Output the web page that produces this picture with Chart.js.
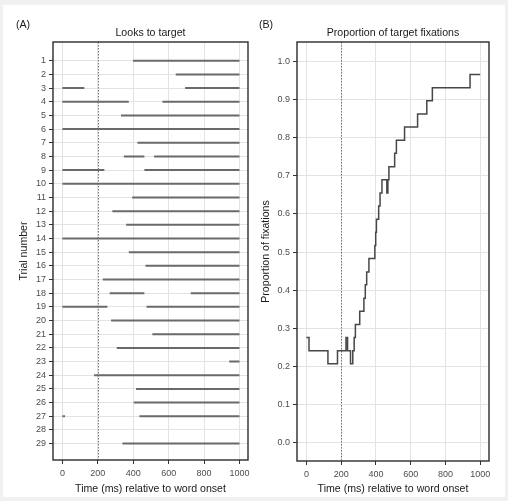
<!DOCTYPE html>
<html>
<head>
<meta charset="utf-8">
<script src="https://cdn.jsdelivr.net/npm/chart.js@4.4.1/dist/chart.umd.min.js"></script>
<style>
  html, body { margin: 0; padding: 0; background: #f1f1f1; width: 508px; height: 501px; overflow: hidden; }
  #sheet { position: absolute; left: 3px; top: 5px; width: 502px; height: 492px; background: #ffffff; }
  .panel { position: absolute; top: 0; width: 254px; height: 501px; }
  #panelA { left: 0; }
  #panelB { left: 254px; }
</style>
</head>
<body>
<div id="sheet"></div>
<div class="panel" id="panelA"><canvas id="looks" width="254" height="501"></canvas></div>
<div class="panel" id="panelB"><canvas id="prop" width="254" height="501"></canvas></div>
<script>
// Trial numbers shown on the y axis of panel A
const trialLabels = [1, 2, 3, 4, 5, 6, 7, 8, 9, 10, 11, 12, 13, 14, 15,
  16, 17, 18, 19, 20, 21, 22, 23, 24, 25, 26, 27, 28, 29];

// Each look to the target: trial, start (ms) and end (ms)
const lookTrial = [1, 2, 3, 3, 4, 4, 5, 6, 7, 8, 8, 9, 9, 10, 11, 12, 13, 14, 15,
  16, 17, 18, 18, 19, 19, 20, 21, 22, 23, 24, 25, 26, 27, 27, 29];
const lookStart = [399, 640, 0, 693, 0, 565, 331, 0, 424, 347, 518, 0, 463, 0, 394, 282, 360, 0, 375,
  469, 228, 267, 725, 0, 475, 275, 508, 307, 942, 179, 416, 403, 0, 435, 339];
const lookEnd = [1000, 1000, 124, 1000, 375, 1000, 1000, 1000, 1000, 463, 1000, 237, 1000, 1000, 1000, 1000, 1000, 1000, 1000,
  1000, 1000, 463, 1000, 254, 1000, 1000, 1000, 1000, 1000, 1000, 1000, 1000, 15, 1000, 1000];

// Proportion of trials fixating the target; each value holds from its time until the next
const fixTimes = [0, 15, 124, 179, 228, 237, 254, 267, 275, 282, 307, 331, 339, 347, 360,
  394, 399, 403, 416, 424, 435, 463, 469, 475, 508, 518, 565, 640, 693, 725, 942, 1000];
const fixProportions = [0.276, 0.241, 0.207, 0.241, 0.276, 0.241, 0.207, 0.241, 0.276, 0.310, 0.345, 0.379, 0.414, 0.448, 0.483,
  0.517, 0.552, 0.586, 0.621, 0.655, 0.690, 0.655, 0.690, 0.724, 0.759, 0.793, 0.828, 0.862, 0.897, 0.931, 0.966, 0.966];

// Axis ticks
const timeTicks = [0, 200, 400, 600, 800, 1000];
const propTicks = [0.0, 0.1, 0.2, 0.3, 0.4, 0.5, 0.6, 0.7, 0.8, 0.9, 1.0];

// Word onset reference line (ms)
const onsetMs = 200;

const FONT = '"Liberation Sans", Arial, Helvetica, sans-serif';
Chart.defaults.font.family = FONT;
Chart.defaults.devicePixelRatio = 1;

// Dotted vertical line at word onset, drawn under the data
const onsetLine = {
  id: 'onsetLine',
  beforeDatasetsDraw(chart) {
    const { ctx, chartArea, scales } = chart;
    const x = Math.round(scales.x.getPixelForValue(onsetMs)) + 0.5;
    ctx.save();
    ctx.strokeStyle = '#777777';
    ctx.lineWidth = 1;
    ctx.setLineDash([1.5, 1.5]);
    ctx.beginPath();
    ctx.moveTo(x, chartArea.top);
    ctx.lineTo(x, chartArea.bottom);
    ctx.stroke();
    ctx.restore();
  }
};

// Box around the plotting area
const panelFrame = {
  id: 'panelFrame',
  afterDraw(chart) {
    const { ctx, chartArea } = chart;
    ctx.save();
    ctx.strokeStyle = '#2b2b2b';
    ctx.lineWidth = 1.4;
    ctx.strokeRect(chartArea.left, chartArea.top, chartArea.right - chartArea.left, chartArea.bottom - chartArea.top);
    ctx.restore();
  }
};

// Panel letter and panel heading
const panelHeading = {
  id: 'panelHeading',
  afterDraw(chart, args, opts) {
    const { ctx, chartArea } = chart;
    ctx.save();
    ctx.fillStyle = '#1a1a1a';
    ctx.font = '10.6px ' + FONT;
    ctx.textBaseline = 'middle';
    ctx.textAlign = 'left';
    ctx.fillText(opts.letter, opts.letterX, 25);
    ctx.textAlign = 'center';
    ctx.fillText(opts.title, (chartArea.left + chartArea.right) / 2, 33);
    ctx.restore();
  }
};

function timeAxis(min, max, height) {
  return {
    type: 'linear',
    min: min,
    max: max,
    afterBuildTicks: s => { s.ticks = timeTicks.map(v => ({ value: v })); },
    afterFit: s => { s.height = height; },
    grid: { color: '#e3e3e3', lineWidth: 1, tickColor: '#333333', tickLength: 4, drawTicks: true },
    border: { display: false },
    ticks: { color: '#4d4d4d', font: { size: 9 }, padding: 4, autoSkip: false, maxRotation: 0,
             callback: v => String(v) },
    title: { display: true, text: 'Time (ms) relative to word onset', color: '#1a1a1a',
             font: { size: 10.6 }, padding: { top: 0, bottom: 6 } }
  };
}

// Panel A: one line segment per look, separated by gaps
const lookPoints = [];
for (let i = 0; i < lookTrial.length; i++) {
  lookPoints.push({ x: lookStart[i], y: lookTrial[i] });
  lookPoints.push({ x: lookEnd[i], y: lookTrial[i] });
  lookPoints.push({ x: lookEnd[i], y: null });
}

new Chart(document.getElementById('looks'), {
  type: 'line',
  data: {
    datasets: [{
      data: lookPoints,
      borderColor: '#6a6a6a',
      borderWidth: 2,
      pointRadius: 0,
      spanGaps: false,
      tension: 0
    }]
  },
  options: {
    responsive: false,
    animation: false,
    layout: { padding: { top: 42, right: 6, bottom: 0, left: 0 } },
    plugins: {
      legend: { display: false },
      tooltip: { enabled: false },
      panelHeading: { letter: '(A)', letterX: 16, title: 'Looks to target' }
    },
    scales: {
      x: timeAxis(-53, 1048, 41),
      y: {
        type: 'linear',
        reverse: true,
        min: -0.37,
        max: 30.2,
        afterBuildTicks: s => { s.ticks = trialLabels.map(v => ({ value: v })); },
        afterFit: s => { s.width = 53; },
        grid: { color: '#e3e3e3', lineWidth: 1, tickColor: '#333333', tickLength: 4, drawTicks: true },
        border: { display: false },
        ticks: { color: '#4d4d4d', font: { size: 9 }, padding: 3, autoSkip: false,
                 callback: v => String(v) },
        title: { display: true, text: 'Trial number', color: '#1a1a1a',
                 font: { size: 10.6 }, padding: { top: 18, bottom: 0 } }
      }
    }
  },
  plugins: [onsetLine, panelFrame, panelHeading]
});

// Panel B: stepped proportion curve
new Chart(document.getElementById('prop'), {
  type: 'line',
  data: {
    datasets: [{
      data: fixTimes.map((t, i) => ({ x: t, y: fixProportions[i] })),
      borderColor: '#474747',
      borderWidth: 1.5,
      pointRadius: 0,
      stepped: true,
      tension: 0
    }]
  },
  options: {
    responsive: false,
    animation: false,
    layout: { padding: { top: 42, right: 19, bottom: 0, left: 0 } },
    plugins: {
      legend: { display: false },
      tooltip: { enabled: false },
      panelHeading: { letter: '(B)', letterX: 5, title: 'Proportion of target fixations' }
    },
    scales: {
      x: timeAxis(-54, 1051, 40),
      y: {
        type: 'linear',
        min: -0.048,
        max: 1.051,
        afterBuildTicks: s => { s.ticks = propTicks.map(v => ({ value: v })); },
        afterFit: s => { s.width = 43; },
        grid: { color: '#e3e3e3', lineWidth: 1, tickColor: '#333333', tickLength: 4, drawTicks: true },
        border: { display: false },
        ticks: { color: '#4d4d4d', font: { size: 9 }, padding: 3, autoSkip: false,
                 callback: v => v.toFixed(1) },
        title: { display: true, text: 'Proportion of fixations', color: '#1a1a1a',
                 font: { size: 10.6 }, padding: { top: 6, bottom: 0 } }
      }
    }
  },
  plugins: [onsetLine, panelFrame, panelHeading]
});
</script>
</body>
</html>
